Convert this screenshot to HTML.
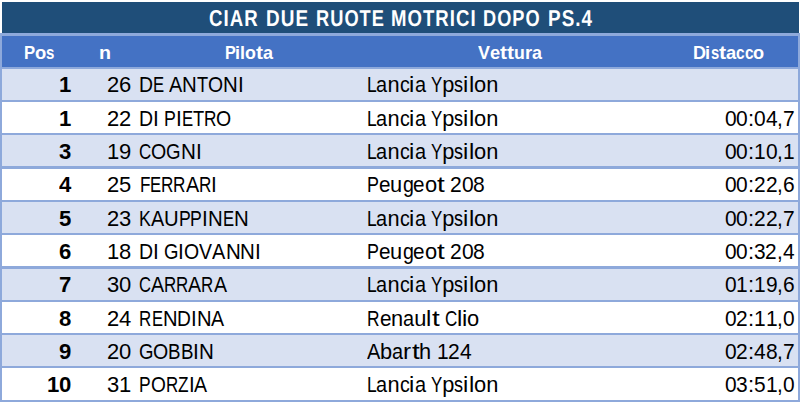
<!DOCTYPE html>
<html><head><meta charset="utf-8"><title>CIAR Due Ruote Motrici dopo PS.4</title>
<style>
html,body{margin:0;padding:0;}
body{width:800px;height:402px;background:#fff;position:relative;overflow:hidden;font-family:"Liberation Sans",sans-serif;}
.r{position:absolute;}
.g{position:absolute;height:0;}
.g span{position:absolute;top:0;white-space:pre;line-height:1;transform-origin:0 0;}
.tt span{font-size:23.0px;font-weight:700;color:#fff;letter-spacing:1.3px;text-rendering:geometricPrecision;}
.hd span{font-size:18.5px;font-weight:700;color:#fff;}
.bb span{font-size:21.8px;font-weight:700;color:#000;}
.bn span{font-size:21.8px;font-weight:400;color:#000;}
</style></head><body>
<div class="r" style="left:2px;top:2px;width:797px;height:31px;background:#1F4E79"></div>
<div class="r" style="left:0px;top:33px;width:800px;height:369px;background:#8EA9DB"></div>
<div class="r" style="left:2px;top:36px;width:796px;height:31px;background:#4472C4"></div>
<div class="r" style="left:2px;top:69px;width:796px;height:31px;background:#D9E1F2"></div>
<div class="r" style="left:2px;top:102px;width:796px;height:31px;background:#FFFFFF"></div>
<div class="r" style="left:2px;top:135px;width:796px;height:31px;background:#D9E1F2"></div>
<div class="r" style="left:2px;top:169px;width:796px;height:31px;background:#FFFFFF"></div>
<div class="r" style="left:2px;top:202px;width:796px;height:31px;background:#D9E1F2"></div>
<div class="r" style="left:2px;top:235px;width:796px;height:31px;background:#FFFFFF"></div>
<div class="r" style="left:2px;top:269px;width:796px;height:31px;background:#D9E1F2"></div>
<div class="r" style="left:2px;top:302px;width:796px;height:31px;background:#FFFFFF"></div>
<div class="r" style="left:2px;top:335px;width:796px;height:31px;background:#D9E1F2"></div>
<div class="r" style="left:2px;top:368px;width:796px;height:32px;background:#FFFFFF"></div>
<div class="g tt" style="left:0;top:7px"><span style="left:209.49px;transform-origin:0 19px;transform:scale(0.8084,1.0000)">CIAR</span><span style="left:266.18px;transform-origin:0 19px;transform:scale(0.8231,1.0000)">DUE</span><span style="left:316.21px;transform-origin:0 19px;transform:scale(0.7925,1.0000)">RUOTE</span><span style="left:390.60px;transform-origin:0 19px;transform:scale(0.8062,1.0000)">MOTRICI</span><span style="left:483.21px;transform-origin:0 19px;transform:scale(0.7911,1.0000)">DOPO</span><span style="left:547.68px;transform-origin:0 19px;transform:scale(0.8201,1.0000)">PS.4</span></div>
<div class="g hd" style="left:23.78px;top:44px"><span style="left:0.00px;transform:scaleX(0.903)">P</span><span style="left:11.14px;transform:scaleX(0.995)">o</span><span style="left:22.38px;transform:scaleX(0.812)">s</span></div>
<div class="g hd" style="left:99.40px;top:44px"><span style="left:0.00px;transform:scaleX(1.063)">n</span></div>
<div class="g hd" style="left:224.72px;top:44px"><span style="left:0.00px;transform:scaleX(0.874)">P</span><span style="left:10.78px;transform:scaleX(0.970)">i</span><span style="left:15.76px;transform:scaleX(0.970)">l</span><span style="left:20.75px;transform:scaleX(0.963)">o</span><span style="left:31.63px;transform:scaleX(1.141)">t</span><span style="left:38.66px;transform:scaleX(0.973)">a</span></div>
<div class="g hd" style="left:478.08px;top:44px"><span style="left:0.00px;transform:scaleX(0.966)">V</span><span style="left:11.92px;transform:scaleX(0.986)">e</span><span style="left:22.06px;transform:scaleX(1.136)">t</span><span style="left:29.06px;transform:scaleX(1.136)">t</span><span style="left:36.06px;transform:scaleX(0.958)">u</span><span style="left:46.89px;transform:scaleX(0.994)">r</span><span style="left:54.05px;transform:scaleX(0.968)">a</span></div>
<div class="g hd" style="left:692.50px;top:44px"><span style="left:0.00px;transform:scaleX(0.973)">D</span><span style="left:12.99px;transform:scaleX(0.987)">i</span><span style="left:18.07px;transform:scaleX(0.800)">s</span><span style="left:26.30px;transform:scaleX(1.162)">t</span><span style="left:33.45px;transform:scaleX(0.990)">a</span><span style="left:43.64px;transform:scaleX(0.838)">c</span><span style="left:52.26px;transform:scaleX(0.838)">c</span><span style="left:60.89px;transform:scaleX(0.980)">o</span></div>
<div class="g bb" style="left:59.31px;top:74px"><span style="left:0.00px;transform:scaleX(1.015)">1</span></div>
<div class="g bn" style="left:106.59px;top:74px"><span style="left:0.00px;transform:scaleX(1.009)">2</span><span style="left:12.24px;transform:scaleX(1.009)">6</span></div>
<div class="g bn" style="left:138.91px;top:74px"><span style="left:0.00px;transform:scaleX(0.892)">D</span><span style="left:14.04px;transform:scaleX(0.766)">E</span><span style="left:30.33px;transform:scaleX(0.909)">A</span><span style="left:43.54px;transform:scaleX(0.936)">N</span><span style="left:58.29px;transform:scaleX(0.835)">T</span><span style="left:69.40px;transform:scaleX(0.891)">O</span><span style="left:84.51px;transform:scaleX(0.936)">N</span><span style="left:99.25px;transform:scaleX(0.950)">I</span></div>
<div class="g bn" style="left:366.77px;top:74px"><span style="left:0.00px;transform:scaleX(0.800)">L</span><span style="left:9.70px;transform:scaleX(0.913)">a</span><span style="left:20.77px;transform:scaleX(1.000)">n</span><span style="left:32.90px;transform:scaleX(0.897)">c</span><span style="left:42.67px;transform:scaleX(1.092)">i</span><span style="left:47.96px;transform:scaleX(0.913)">a</span><span style="left:64.25px;transform:scaleX(0.774)">Y</span><span style="left:75.50px;transform:scaleX(1.000)">p</span><span style="left:87.63px;transform:scaleX(0.829)">s</span><span style="left:96.66px;transform:scaleX(1.092)">i</span><span style="left:101.95px;transform:scaleX(1.092)">l</span><span style="left:107.24px;transform:scaleX(1.004)">o</span><span style="left:119.42px;transform:scaleX(1.000)">n</span></div>
<div class="g bb" style="left:59.31px;top:108px"><span style="left:0.00px;transform:scaleX(1.015)">1</span></div>
<div class="g bn" style="left:106.59px;top:108px"><span style="left:0.00px;transform:scaleX(1.009)">2</span><span style="left:12.24px;transform:scaleX(1.009)">2</span></div>
<div class="g bn" style="left:138.90px;top:108px"><span style="left:0.00px;transform:scaleX(0.895)">D</span><span style="left:14.09px;transform:scaleX(0.954)">I</span><span style="left:25.05px;transform:scaleX(0.815)">P</span><span style="left:36.90px;transform:scaleX(0.954)">I</span><span style="left:42.67px;transform:scaleX(0.769)">E</span><span style="left:53.86px;transform:scaleX(0.838)">T</span><span style="left:65.02px;transform:scaleX(0.790)">R</span><span style="left:77.46px;transform:scaleX(0.895)">O</span></div>
<div class="g bn" style="left:366.77px;top:108px"><span style="left:0.00px;transform:scaleX(0.800)">L</span><span style="left:9.70px;transform:scaleX(0.913)">a</span><span style="left:20.77px;transform:scaleX(1.000)">n</span><span style="left:32.90px;transform:scaleX(0.897)">c</span><span style="left:42.67px;transform:scaleX(1.092)">i</span><span style="left:47.96px;transform:scaleX(0.913)">a</span><span style="left:64.25px;transform:scaleX(0.774)">Y</span><span style="left:75.50px;transform:scaleX(1.000)">p</span><span style="left:87.63px;transform:scaleX(0.829)">s</span><span style="left:96.66px;transform:scaleX(1.092)">i</span><span style="left:101.95px;transform:scaleX(1.092)">l</span><span style="left:107.24px;transform:scaleX(1.004)">o</span><span style="left:119.42px;transform:scaleX(1.000)">n</span></div>
<div class="g bn" style="left:724.58px;top:108px"><span style="left:0.00px;transform:scaleX(0.963)">0</span><span style="left:11.67px;transform:scaleX(0.963)">0</span><span style="left:23.35px;transform:scaleX(1.015)">:</span><span style="left:29.50px;transform:scaleX(0.963)">0</span><span style="left:41.17px;transform:scaleX(0.963)">4</span><span style="left:52.84px;transform:scaleX(0.950)">,</span><span style="left:58.60px;transform:scaleX(0.963)">7</span></div>
<div class="g bb" style="left:59.31px;top:141px"><span style="left:0.00px;transform:scaleX(1.015)">3</span></div>
<div class="g bn" style="left:106.59px;top:141px"><span style="left:0.00px;transform:scaleX(1.009)">1</span><span style="left:12.24px;transform:scaleX(1.009)">9</span></div>
<div class="g bn" style="left:138.74px;top:141px"><span style="left:0.00px;transform:scaleX(0.779)">C</span><span style="left:12.27px;transform:scaleX(0.898)">O</span><span style="left:27.50px;transform:scaleX(0.856)">G</span><span style="left:42.02px;transform:scaleX(0.944)">N</span><span style="left:56.89px;transform:scaleX(0.958)">I</span></div>
<div class="g bn" style="left:366.77px;top:141px"><span style="left:0.00px;transform:scaleX(0.800)">L</span><span style="left:9.70px;transform:scaleX(0.913)">a</span><span style="left:20.77px;transform:scaleX(1.000)">n</span><span style="left:32.90px;transform:scaleX(0.897)">c</span><span style="left:42.67px;transform:scaleX(1.092)">i</span><span style="left:47.96px;transform:scaleX(0.913)">a</span><span style="left:64.25px;transform:scaleX(0.774)">Y</span><span style="left:75.50px;transform:scaleX(1.000)">p</span><span style="left:87.63px;transform:scaleX(0.829)">s</span><span style="left:96.66px;transform:scaleX(1.092)">i</span><span style="left:101.95px;transform:scaleX(1.092)">l</span><span style="left:107.24px;transform:scaleX(1.004)">o</span><span style="left:119.42px;transform:scaleX(1.000)">n</span></div>
<div class="g bn" style="left:724.58px;top:141px"><span style="left:0.00px;transform:scaleX(0.962)">0</span><span style="left:11.67px;transform:scaleX(0.962)">0</span><span style="left:23.34px;transform:scaleX(1.015)">:</span><span style="left:29.48px;transform:scaleX(0.962)">1</span><span style="left:41.15px;transform:scaleX(0.962)">0</span><span style="left:52.82px;transform:scaleX(0.950)">,</span><span style="left:58.58px;transform:scaleX(0.962)">1</span></div>
<div class="g bb" style="left:59.31px;top:174px"><span style="left:0.00px;transform:scaleX(1.015)">4</span></div>
<div class="g bn" style="left:106.59px;top:174px"><span style="left:0.00px;transform:scaleX(1.009)">2</span><span style="left:12.24px;transform:scaleX(1.009)">5</span></div>
<div class="g bn" style="left:139.50px;top:174px"><span style="left:0.00px;transform:scaleX(0.785)">F</span><span style="left:10.46px;transform:scaleX(0.765)">E</span><span style="left:21.57px;transform:scaleX(0.786)">R</span><span style="left:33.94px;transform:scaleX(0.786)">R</span><span style="left:46.31px;transform:scaleX(0.907)">A</span><span style="left:59.50px;transform:scaleX(0.786)">R</span><span style="left:71.87px;transform:scaleX(0.948)">I</span></div>
<div class="g bn" style="left:366.93px;top:174px"><span style="left:0.00px;transform:scaleX(0.822)">P</span><span style="left:11.95px;transform:scaleX(0.949)">e</span><span style="left:23.46px;transform:scaleX(1.001)">u</span><span style="left:35.59px;transform:scaleX(0.898)">g</span><span style="left:46.48px;transform:scaleX(0.949)">e</span><span style="left:57.99px;transform:scaleX(1.005)">o</span><span style="left:70.17px;transform:scaleX(1.278)">t</span><span style="left:83.13px;transform:scaleX(0.966)">2</span><span style="left:94.85px;transform:scaleX(0.966)">0</span><span style="left:106.57px;transform:scaleX(0.966)">8</span></div>
<div class="g bn" style="left:724.58px;top:174px"><span style="left:0.00px;transform:scaleX(0.961)">0</span><span style="left:11.65px;transform:scaleX(0.961)">0</span><span style="left:23.30px;transform:scaleX(1.013)">:</span><span style="left:29.44px;transform:scaleX(0.961)">2</span><span style="left:41.09px;transform:scaleX(0.961)">2</span><span style="left:52.74px;transform:scaleX(0.949)">,</span><span style="left:58.49px;transform:scaleX(0.961)">6</span></div>
<div class="g bb" style="left:59.31px;top:208px"><span style="left:0.00px;transform:scaleX(1.015)">5</span></div>
<div class="g bn" style="left:106.59px;top:208px"><span style="left:0.00px;transform:scaleX(1.009)">2</span><span style="left:12.24px;transform:scaleX(1.009)">3</span></div>
<div class="g bn" style="left:139.04px;top:208px"><span style="left:0.00px;transform:scaleX(0.815)">K</span><span style="left:11.85px;transform:scaleX(0.907)">A</span><span style="left:25.04px;transform:scaleX(0.929)">U</span><span style="left:39.67px;transform:scaleX(0.810)">P</span><span style="left:51.44px;transform:scaleX(0.810)">P</span><span style="left:63.22px;transform:scaleX(0.948)">I</span><span style="left:68.96px;transform:scaleX(0.935)">N</span><span style="left:83.68px;transform:scaleX(0.765)">E</span><span style="left:94.80px;transform:scaleX(0.935)">N</span></div>
<div class="g bn" style="left:366.77px;top:208px"><span style="left:0.00px;transform:scaleX(0.800)">L</span><span style="left:9.70px;transform:scaleX(0.913)">a</span><span style="left:20.77px;transform:scaleX(1.000)">n</span><span style="left:32.90px;transform:scaleX(0.897)">c</span><span style="left:42.67px;transform:scaleX(1.092)">i</span><span style="left:47.96px;transform:scaleX(0.913)">a</span><span style="left:64.25px;transform:scaleX(0.774)">Y</span><span style="left:75.50px;transform:scaleX(1.000)">p</span><span style="left:87.63px;transform:scaleX(0.829)">s</span><span style="left:96.66px;transform:scaleX(1.092)">i</span><span style="left:101.95px;transform:scaleX(1.092)">l</span><span style="left:107.24px;transform:scaleX(1.004)">o</span><span style="left:119.42px;transform:scaleX(1.000)">n</span></div>
<div class="g bn" style="left:724.58px;top:208px"><span style="left:0.00px;transform:scaleX(0.963)">0</span><span style="left:11.67px;transform:scaleX(0.963)">0</span><span style="left:23.35px;transform:scaleX(1.015)">:</span><span style="left:29.50px;transform:scaleX(0.963)">2</span><span style="left:41.17px;transform:scaleX(0.963)">2</span><span style="left:52.84px;transform:scaleX(0.950)">,</span><span style="left:58.60px;transform:scaleX(0.963)">7</span></div>
<div class="g bb" style="left:59.31px;top:241px"><span style="left:0.00px;transform:scaleX(1.015)">6</span></div>
<div class="g bn" style="left:106.59px;top:241px"><span style="left:0.00px;transform:scaleX(1.009)">1</span><span style="left:12.24px;transform:scaleX(1.009)">8</span></div>
<div class="g bn" style="left:138.90px;top:241px"><span style="left:0.00px;transform:scaleX(0.895)">D</span><span style="left:14.08px;transform:scaleX(0.953)">I</span><span style="left:25.03px;transform:scaleX(0.852)">G</span><span style="left:39.48px;transform:scaleX(0.953)">I</span><span style="left:45.25px;transform:scaleX(0.894)">O</span><span style="left:60.41px;transform:scaleX(0.893)">V</span><span style="left:73.40px;transform:scaleX(0.912)">A</span><span style="left:86.66px;transform:scaleX(0.940)">N</span><span style="left:101.45px;transform:scaleX(0.940)">N</span><span style="left:116.25px;transform:scaleX(0.953)">I</span></div>
<div class="g bn" style="left:366.93px;top:241px"><span style="left:0.00px;transform:scaleX(0.822)">P</span><span style="left:11.95px;transform:scaleX(0.949)">e</span><span style="left:23.46px;transform:scaleX(1.001)">u</span><span style="left:35.59px;transform:scaleX(0.898)">g</span><span style="left:46.48px;transform:scaleX(0.949)">e</span><span style="left:57.99px;transform:scaleX(1.005)">o</span><span style="left:70.17px;transform:scaleX(1.278)">t</span><span style="left:83.13px;transform:scaleX(0.966)">2</span><span style="left:94.85px;transform:scaleX(0.966)">0</span><span style="left:106.57px;transform:scaleX(0.966)">8</span></div>
<div class="g bn" style="left:724.59px;top:241px"><span style="left:0.00px;transform:scaleX(0.957)">0</span><span style="left:11.60px;transform:scaleX(0.957)">0</span><span style="left:23.20px;transform:scaleX(1.009)">:</span><span style="left:29.31px;transform:scaleX(0.957)">3</span><span style="left:40.91px;transform:scaleX(0.957)">2</span><span style="left:52.51px;transform:scaleX(0.944)">,</span><span style="left:58.23px;transform:scaleX(0.957)">4</span></div>
<div class="g bb" style="left:59.31px;top:274px"><span style="left:0.00px;transform:scaleX(1.015)">7</span></div>
<div class="g bn" style="left:106.59px;top:274px"><span style="left:0.00px;transform:scaleX(1.009)">3</span><span style="left:12.24px;transform:scaleX(1.009)">0</span></div>
<div class="g bn" style="left:138.76px;top:274px"><span style="left:0.00px;transform:scaleX(0.763)">C</span><span style="left:12.01px;transform:scaleX(0.898)">A</span><span style="left:25.06px;transform:scaleX(0.777)">R</span><span style="left:37.30px;transform:scaleX(0.777)">R</span><span style="left:49.54px;transform:scaleX(0.898)">A</span><span style="left:62.59px;transform:scaleX(0.777)">R</span><span style="left:74.83px;transform:scaleX(0.898)">A</span></div>
<div class="g bn" style="left:366.77px;top:274px"><span style="left:0.00px;transform:scaleX(0.800)">L</span><span style="left:9.70px;transform:scaleX(0.913)">a</span><span style="left:20.77px;transform:scaleX(1.000)">n</span><span style="left:32.90px;transform:scaleX(0.897)">c</span><span style="left:42.67px;transform:scaleX(1.092)">i</span><span style="left:47.96px;transform:scaleX(0.913)">a</span><span style="left:64.25px;transform:scaleX(0.774)">Y</span><span style="left:75.50px;transform:scaleX(1.000)">p</span><span style="left:87.63px;transform:scaleX(0.829)">s</span><span style="left:96.66px;transform:scaleX(1.092)">i</span><span style="left:101.95px;transform:scaleX(1.092)">l</span><span style="left:107.24px;transform:scaleX(1.004)">o</span><span style="left:119.42px;transform:scaleX(1.000)">n</span></div>
<div class="g bn" style="left:724.58px;top:274px"><span style="left:0.00px;transform:scaleX(0.961)">0</span><span style="left:11.65px;transform:scaleX(0.961)">1</span><span style="left:23.30px;transform:scaleX(1.013)">:</span><span style="left:29.44px;transform:scaleX(0.961)">1</span><span style="left:41.09px;transform:scaleX(0.961)">9</span><span style="left:52.74px;transform:scaleX(0.949)">,</span><span style="left:58.49px;transform:scaleX(0.961)">6</span></div>
<div class="g bb" style="left:59.31px;top:308px"><span style="left:0.00px;transform:scaleX(1.015)">8</span></div>
<div class="g bn" style="left:106.59px;top:308px"><span style="left:0.00px;transform:scaleX(1.009)">2</span><span style="left:12.24px;transform:scaleX(1.009)">4</span></div>
<div class="g bn" style="left:139.46px;top:308px"><span style="left:0.00px;transform:scaleX(0.779)">R</span><span style="left:12.26px;transform:scaleX(0.758)">E</span><span style="left:23.27px;transform:scaleX(0.926)">N</span><span style="left:37.86px;transform:scaleX(0.882)">D</span><span style="left:51.74px;transform:scaleX(0.939)">I</span><span style="left:57.43px;transform:scaleX(0.926)">N</span><span style="left:72.01px;transform:scaleX(0.899)">A</span></div>
<div class="g bn" style="left:366.98px;top:308px"><span style="left:0.00px;transform:scaleX(0.796)">R</span><span style="left:12.54px;transform:scaleX(0.949)">e</span><span style="left:24.04px;transform:scaleX(1.000)">n</span><span style="left:36.16px;transform:scaleX(0.912)">a</span><span style="left:47.22px;transform:scaleX(1.000)">u</span><span style="left:59.35px;transform:scaleX(1.092)">l</span><span style="left:64.63px;transform:scaleX(1.277)">t</span><span style="left:77.59px;transform:scaleX(0.782)">C</span><span style="left:89.90px;transform:scaleX(1.092)">l</span><span style="left:95.19px;transform:scaleX(1.092)">i</span><span style="left:100.47px;transform:scaleX(1.004)">o</span></div>
<div class="g bn" style="left:724.58px;top:308px"><span style="left:0.00px;transform:scaleX(0.960)">0</span><span style="left:11.63px;transform:scaleX(0.960)">2</span><span style="left:23.27px;transform:scaleX(1.012)">:</span><span style="left:29.40px;transform:scaleX(0.960)">1</span><span style="left:41.03px;transform:scaleX(0.960)">1</span><span style="left:52.66px;transform:scaleX(0.947)">,</span><span style="left:58.40px;transform:scaleX(0.960)">0</span></div>
<div class="g bb" style="left:59.31px;top:341px"><span style="left:0.00px;transform:scaleX(1.015)">9</span></div>
<div class="g bn" style="left:106.59px;top:341px"><span style="left:0.00px;transform:scaleX(1.009)">2</span><span style="left:12.24px;transform:scaleX(1.009)">0</span></div>
<div class="g bn" style="left:138.66px;top:341px"><span style="left:0.00px;transform:scaleX(0.854)">G</span><span style="left:14.48px;transform:scaleX(0.896)">O</span><span style="left:29.68px;transform:scaleX(0.859)">B</span><span style="left:42.16px;transform:scaleX(0.859)">B</span><span style="left:54.65px;transform:scaleX(0.955)">I</span><span style="left:60.43px;transform:scaleX(0.942)">N</span></div>
<div class="g bn" style="left:366.96px;top:341px"><span style="left:0.00px;transform:scaleX(0.919)">A</span><span style="left:13.36px;transform:scaleX(0.999)">b</span><span style="left:25.48px;transform:scaleX(0.912)">a</span><span style="left:36.53px;transform:scaleX(1.110)">r</span><span style="left:44.59px;transform:scaleX(1.277)">t</span><span style="left:52.32px;transform:scaleX(0.999)">h</span><span style="left:69.65px;transform:scaleX(0.965)">1</span><span style="left:81.35px;transform:scaleX(0.965)">2</span><span style="left:93.05px;transform:scaleX(0.965)">4</span></div>
<div class="g bn" style="left:724.58px;top:341px"><span style="left:0.00px;transform:scaleX(0.963)">0</span><span style="left:11.67px;transform:scaleX(0.963)">2</span><span style="left:23.35px;transform:scaleX(1.015)">:</span><span style="left:29.50px;transform:scaleX(0.963)">4</span><span style="left:41.17px;transform:scaleX(0.963)">8</span><span style="left:52.84px;transform:scaleX(0.950)">,</span><span style="left:58.60px;transform:scaleX(0.963)">7</span></div>
<div class="g bb" style="left:47.01px;top:374px"><span style="left:0.00px;transform:scaleX(1.015)">1</span><span style="left:12.30px;transform:scaleX(1.015)">0</span></div>
<div class="g bn" style="left:106.59px;top:374px"><span style="left:0.00px;transform:scaleX(1.009)">3</span><span style="left:12.24px;transform:scaleX(1.009)">1</span></div>
<div class="g bn" style="left:139.42px;top:374px"><span style="left:0.00px;transform:scaleX(0.800)">P</span><span style="left:11.63px;transform:scaleX(0.878)">O</span><span style="left:26.53px;transform:scaleX(0.776)">R</span><span style="left:38.74px;transform:scaleX(0.791)">Z</span><span style="left:49.27px;transform:scaleX(0.936)">I</span><span style="left:54.94px;transform:scaleX(0.896)">A</span></div>
<div class="g bn" style="left:366.77px;top:374px"><span style="left:0.00px;transform:scaleX(0.800)">L</span><span style="left:9.70px;transform:scaleX(0.913)">a</span><span style="left:20.77px;transform:scaleX(1.000)">n</span><span style="left:32.90px;transform:scaleX(0.897)">c</span><span style="left:42.67px;transform:scaleX(1.092)">i</span><span style="left:47.96px;transform:scaleX(0.913)">a</span><span style="left:64.25px;transform:scaleX(0.774)">Y</span><span style="left:75.50px;transform:scaleX(1.000)">p</span><span style="left:87.63px;transform:scaleX(0.829)">s</span><span style="left:96.66px;transform:scaleX(1.092)">i</span><span style="left:101.95px;transform:scaleX(1.092)">l</span><span style="left:107.24px;transform:scaleX(1.004)">o</span><span style="left:119.42px;transform:scaleX(1.000)">n</span></div>
<div class="g bn" style="left:724.58px;top:374px"><span style="left:0.00px;transform:scaleX(0.960)">0</span><span style="left:11.63px;transform:scaleX(0.960)">3</span><span style="left:23.27px;transform:scaleX(1.012)">:</span><span style="left:29.40px;transform:scaleX(0.960)">5</span><span style="left:41.03px;transform:scaleX(0.960)">1</span><span style="left:52.66px;transform:scaleX(0.947)">,</span><span style="left:58.40px;transform:scaleX(0.960)">0</span></div>
</body></html>
